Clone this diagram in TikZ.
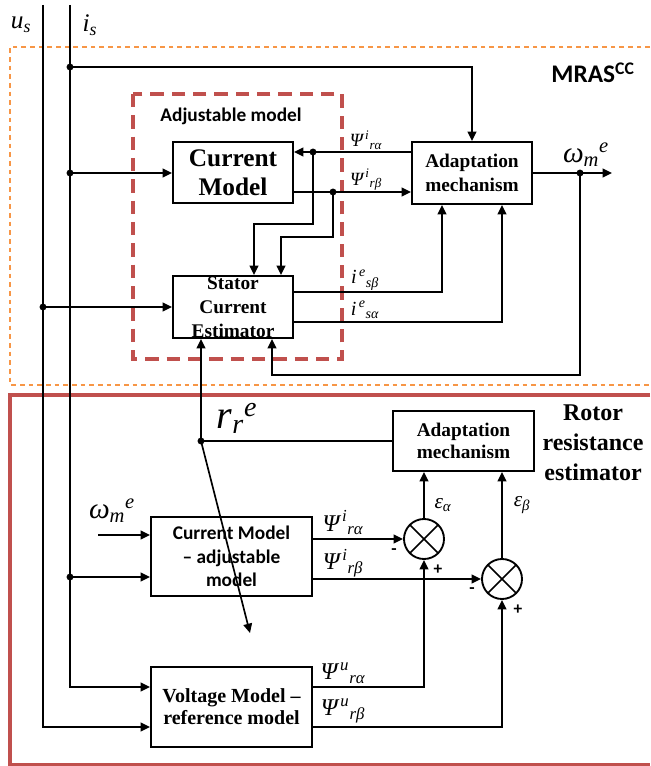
\documentclass[tikz,border=0pt]{standalone}
\usepackage{amsmath}
\usepackage{fontspec}
\setmainfont{Liberation Serif}
\newfontfamily\calibri{Carlito}
\usetikzlibrary{arrows.meta}
\newcommand\ti[1]{\text{\itshape #1}}
\definecolor{frameorange}{RGB}{247,150,70}
\definecolor{framered}{RGB}{192,80,77}
\tikzset{
  box/.style={draw, line width=1.4pt, inner sep=0pt, align=center},
  ln/.style={line width=1.25pt},
  arr/.style={line width=1.25pt, -{Triangle[length=7pt,width=6.5pt]}},
  lbl/.style={inner sep=0pt, anchor=center},
  sumj/.style={draw, circle, line width=1.4pt, minimum size=30pt, inner sep=0pt,
    path picture={\draw[line width=1.2pt] (path picture bounding box.north west) -- (path picture bounding box.south east)
      (path picture bounding box.north east) -- (path picture bounding box.south west);}},
}
\begin{document}
\begin{tikzpicture}[x=0.75pt,y=-0.75pt]
\useasboundingbox (0,0) rectangle (650,766);
% frames
\draw[frameorange, line width=2.2pt, dash pattern=on 3.5pt off 3pt] (650,47) -- (10,47) -- (10,385) -- (650,385);
\draw[framered, line width=2.6pt] (650,395) -- (10,395) -- (10,765) -- (650,765);
\draw[framered, line width=2.6pt, dash pattern=on 10pt off 6pt] (133,94) rectangle (342,359);
% titles
\node[lbl, font=\calibri\bfseries\fontsize{14.5}{16}\selectfont] (tadj) at (231,116) {Adjustable model};
\node[lbl, font=\calibri\bfseries\fontsize{19}{21}\selectfont] (tmras) at (593,73) {MRAS\textsuperscript{CC}};
\node[lbl, align=center, font=\bfseries\fontsize{18}{22.5}\selectfont] (trot) at (593,443) {Rotor\\resistance\\estimator};
% blocks
\node[box, minimum width=90pt, minimum height=45.75pt, font=\bfseries\fontsize{19}{21.5}\selectfont] (cm) at (233,172.5) {Current\\Model};
\node[box, minimum width=90pt, minimum height=46.5pt, font=\bfseries\fontsize{14.5}{17.5}\selectfont] (am1) at (472,173) {Adaptation\\mechanism};
\node[box, minimum width=90pt, minimum height=46.5pt, font=\bfseries\fontsize{14.5}{18}\selectfont] (sce) at (233,307) {Stator\\Current\\Estimator};
\node[box, minimum width=105.75pt, minimum height=45pt, font=\bfseries\fontsize{14.5}{16.5}\selectfont] (am2) at (463.5,441) {Adaptation\\mechanism};
\node[box, minimum width=120.75pt, minimum height=59.25pt, font=\calibri\bfseries\fontsize{14.5}{17.6}\selectfont] (cma) at (231.5,556.5) {Current Model\\– adjustable\\model};
\node[box, minimum width=120.75pt, minimum height=60pt, font=\bfseries\fontsize{15}{16.5}\selectfont] (vm) at (231.5,707) {Voltage Model –\\reference model};
\node[sumj] (s1) at (424,539) {};
\node[sumj] (s2) at (502,579) {};
% coordinates
\coordinate (ustop) at (43,5);
\coordinate (ubot) at (43,727);
\coordinate (istop) at (70,5);
\coordinate (ibot) at (70,687);
\coordinate (d1) at (70,67);
\coordinate (d2) at (70,173);
\coordinate (d4) at (43,307);
\coordinate (d5) at (70,577);
\coordinate (dra) at (313,152);
\coordinate (drb) at (333,192);
\coordinate (ka) at (254,224);
\coordinate (kb) at (281,237);
\coordinate (kc) at (442,292);
\coordinate (kd) at (502,322);
\coordinate (dw) at (580,173);
\coordinate (wend) at (612,173);
\coordinate (ke) at (272,375);
\coordinate (dr) at (201,441);
\coordinate (tipr) at (250,633);
\coordinate (win) at (98,535);
% connectors
\draw[arr] (istop) -- (ibot) -- (vm.west |- ibot);
\draw[arr] (ustop) -- (ubot) -- (vm.west |- ubot);
\draw[arr] (d1) -| (am1.north);
\draw[arr] (d2) -- (cm.west |- d2);
\draw[arr] (am1.west |- dra) -- (cm.east |- dra);
\draw[arr] (cm.east |- drb) -- (am1.west |- drb);
\draw[arr] (dra) |- (ka) -- (ka |- sce.north);
\draw[arr] (drb) |- (kb) -- (kb |- sce.north);
\draw[arr] (d4) -- (sce.west |- d4);
\draw[arr] (sce.east |- kc) -| (kc |- am1.south);
\draw[arr] (sce.east |- kd) -| (kd |- am1.south);
\draw[arr] (am1.east) -- (wend);
\draw[arr] (dw) |- (ke) -- (ke |- sce.south);
\draw[arr] (dr) -- (dr |- sce.south);
\draw[ln] (dr) -- (am2.west |- dr);
\draw[arr] (dr) -- (tipr);
\draw[arr] (s1.north) -- (s1.north |- am2.south);
\draw[arr] (s2.north) -- (s2.north |- am2.south);
\draw[arr] (win) -- (cma.west |- win);
\draw[arr] (d5) -- (cma.west |- d5);
\draw[arr] (cma.east |- s1) -- (s1.west);
\draw[arr] (cma.east |- s2) -- (s2.west);
\draw[arr] (vm.east |- ibot) -| (s1.south);
\draw[arr] (vm.east |- ubot) -| (s2.south);
\foreach \c in {d1,d2,d4,d5,dra,drb,dw,dr} \fill (\c) circle (2.6pt);
% labels
\node[lbl, font=\fontsize{19}{20}\selectfont] (lus) at (21,25) {$\ti{u}_{\ti{s}}$};
\node[lbl, font=\fontsize{19}{20}\selectfont] (lis) at (90,25) {$\ti{i}_{\ti{s}}$};
\node[lbl, font=\fontsize{14}{15}\selectfont] (lpa1) at (366,140) {$\ti{Ψ}^{\,\ti{i}}{}_{\ti{rα}}$};
\node[lbl, font=\fontsize{14}{15}\selectfont] (lpb1) at (366,180) {$\ti{Ψ}^{\,\ti{i}}{}_{\ti{rβ}}$};
\node[lbl, font=\fontsize{15}{16}\selectfont] (lisb) at (365,280) {$\ti{i}^{\,\ti{e}}{}_{\ti{sβ}}$};
\node[lbl, font=\fontsize{15}{16}\selectfont] (lisa) at (365,310) {$\ti{i}^{\,\ti{e}}{}_{\ti{sα}}$};
\node[lbl, font=\fontsize{22}{23}\selectfont] (lw1) at (586,155) {$\ti{ω}_{\ti{m}}{}^{\ti{e}}$};
\node[lbl, font=\fontsize{30}{32}\selectfont] (lrr) at (237,418) {$\ti{r}_{\ti{r}}{}^{\ti{e}}$};
\node[lbl, font=\fontsize{16}{17}\selectfont] (lea) at (443,505) {$\ti{ε}_{\ti{α}}$};
\node[lbl, font=\fontsize{16}{17}\selectfont] (leb) at (522,505) {$\ti{ε}_{\ti{β}}$};
\node[lbl, font=\fontsize{22}{23}\selectfont] (lw2) at (112,511) {$\ti{ω}_{\ti{m}}{}^{\ti{e}}$};
\node[lbl, font=\fontsize{18}{19}\selectfont] (lpa2) at (343,523) {$\ti{Ψ}^{\,\ti{i}}{}_{\ti{rα}}$};
\node[lbl, font=\fontsize{18}{19}\selectfont] (lpb2) at (343,563) {$\ti{Ψ}^{\,\ti{i}}{}_{\ti{rβ}}$};
\node[lbl, font=\fontsize{18}{19}\selectfont] (lpa3) at (343,673) {$\ti{Ψ}^{\,\ti{u}}{}_{\ti{rα}}$};
\node[lbl, font=\fontsize{18}{19}\selectfont] (lpb3) at (343,711) {$\ti{Ψ}^{\,\ti{u}}{}_{\ti{rβ}}$};
\node[lbl, font=\calibri\bfseries\fontsize{13}{14}\selectfont] (m1) at (394,552) {-};
\node[lbl, font=\calibri\bfseries\fontsize{13}{14}\selectfont] (p1) at (438,570) {+};
\node[lbl, font=\calibri\bfseries\fontsize{13}{14}\selectfont] (m2) at (472,591) {-};
\node[lbl, font=\calibri\bfseries\fontsize{13}{14}\selectfont] (p2) at (518,610) {+};
\end{tikzpicture}
\end{document}
